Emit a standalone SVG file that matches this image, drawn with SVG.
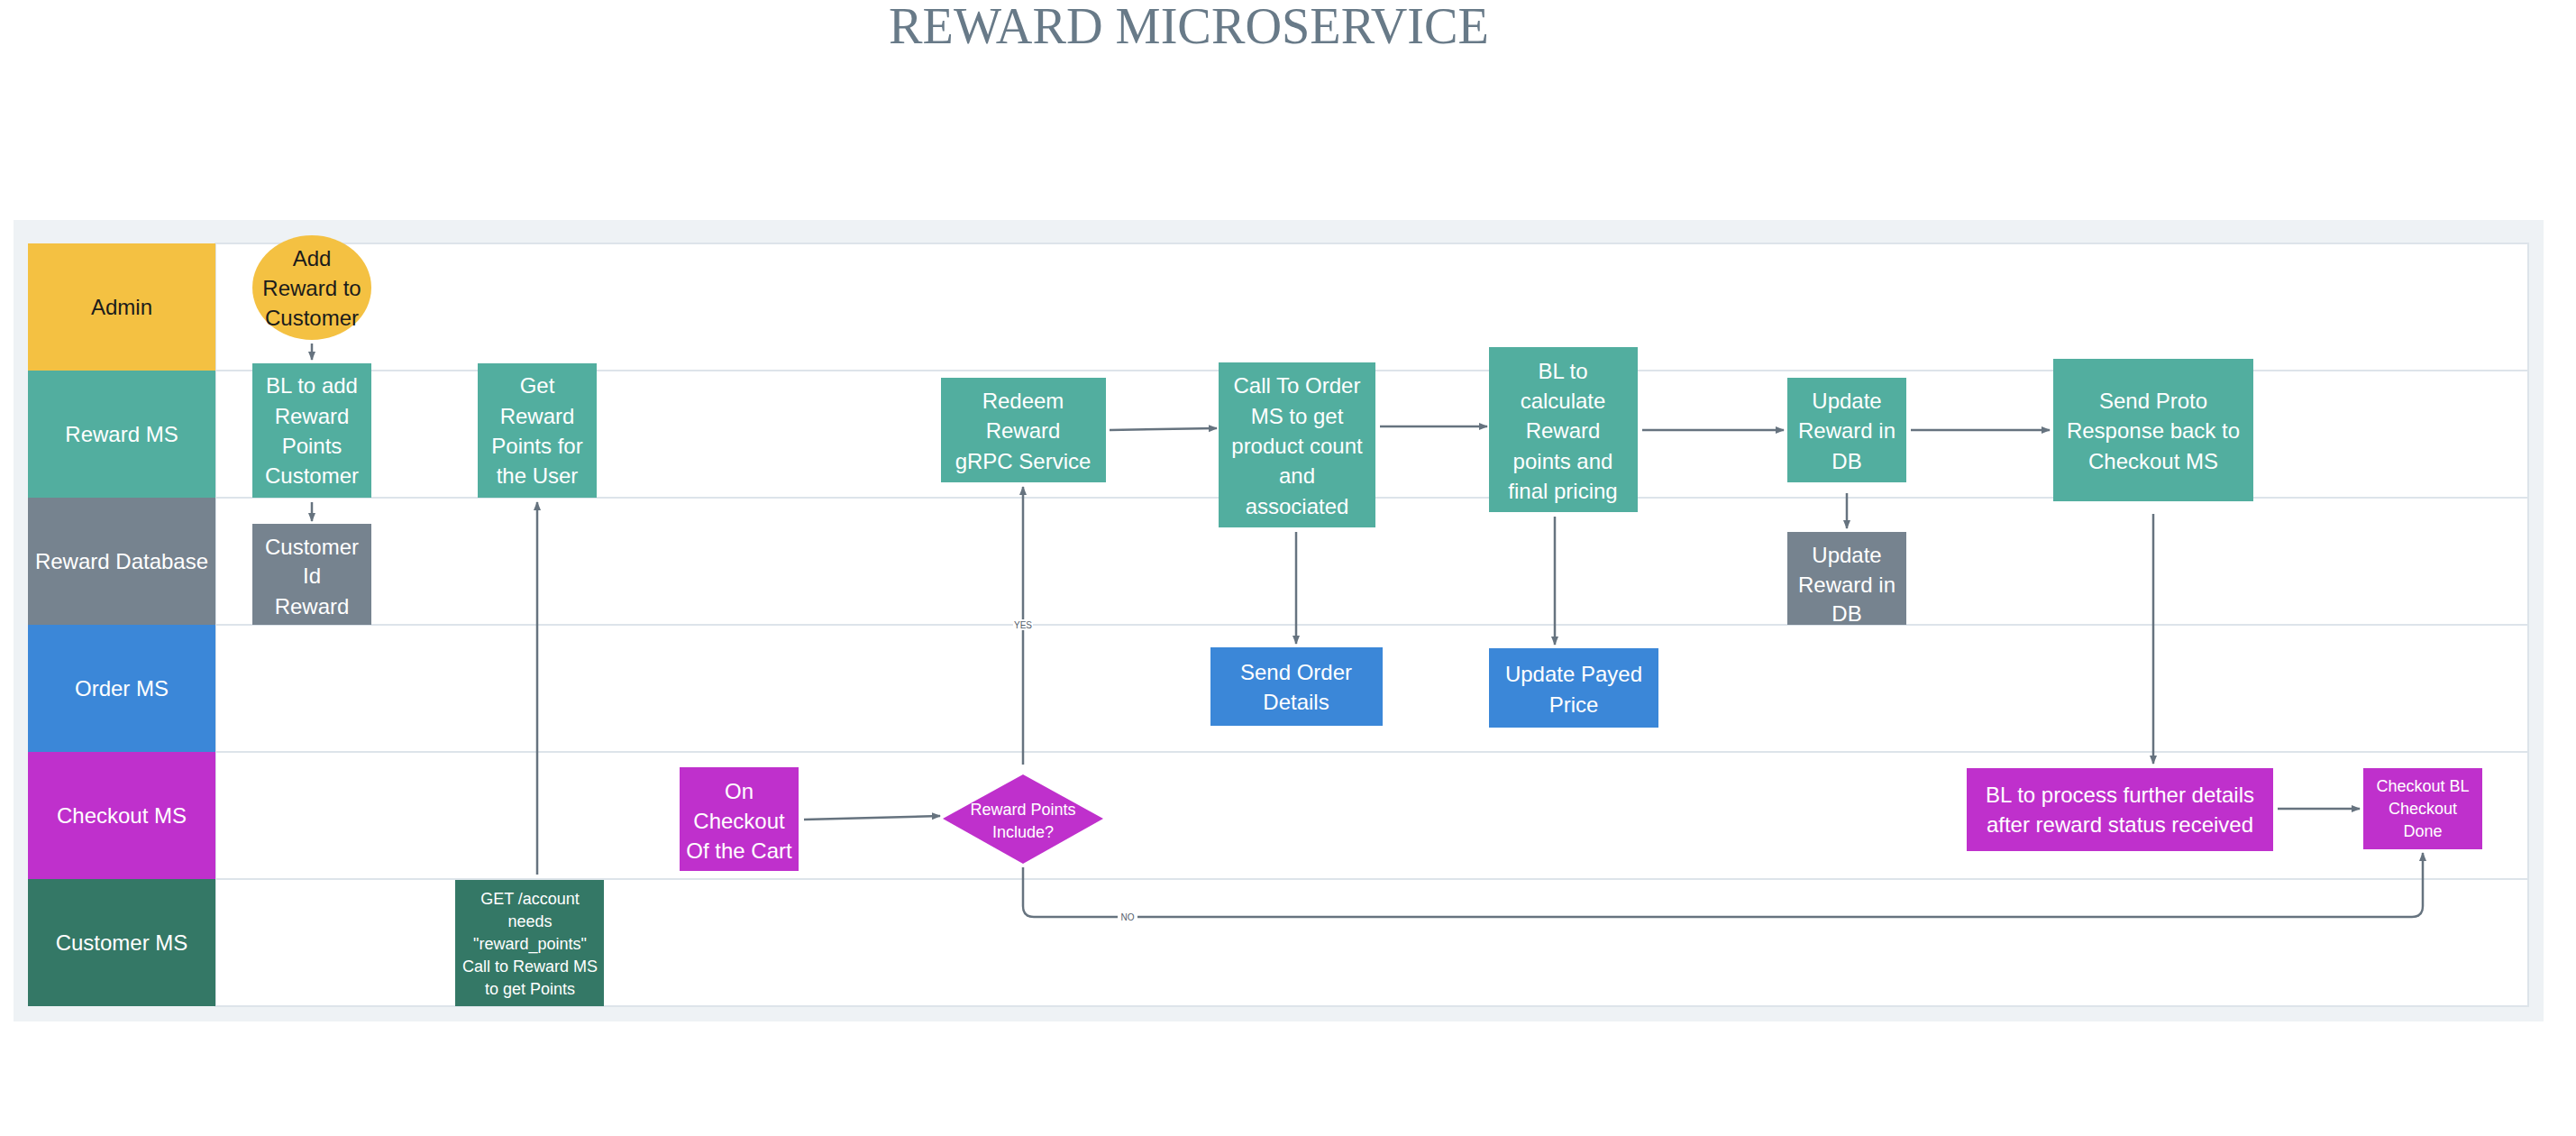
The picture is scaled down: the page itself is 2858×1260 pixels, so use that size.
<svg xmlns="http://www.w3.org/2000/svg" width="2858" height="1260" viewBox="0 0 2858 1260">
<defs>
<marker id="ah" viewBox="0 0 10 10" refX="9" refY="5" markerWidth="10" markerHeight="10" markerUnits="userSpaceOnUse" orient="auto">
<path d="M0,1 L10,5 L0,9 z" fill="#66737f"/>
</marker>
<style>
.t{font-family:"Liberation Sans",Arial,sans-serif;font-size:24px;fill:#ffffff;text-anchor:middle}
.s{font-size:18px}
.dk{fill:#1b1b1b}
.lbl{font-family:"Liberation Sans",Arial,sans-serif;font-size:10px;fill:#55606b;text-anchor:middle}
.c{fill:none;stroke:#66737f;stroke-width:2.5;marker-end:url(#ah)}
.teal{fill:#52ae9f}
.grey{fill:#76838f}
.blue{fill:#3b87d8}
.mag{fill:#bf30cc}
.lane{stroke:#dde4ea;stroke-width:2;fill:none}
</style>
</defs>
<rect width="2858" height="1260" fill="#ffffff"/>
<text x="1319" y="48" font-family="'Liberation Serif','DejaVu Serif',serif" font-size="58" fill="#687a88" text-anchor="middle" textLength="666" lengthAdjust="spacingAndGlyphs">REWARD MICROSERVICE</text>

<g id="swimlanes">
<rect x="15" y="244" width="2807" height="889" fill="#eef2f5"/>
<rect x="239" y="270" width="2566" height="846" fill="#ffffff" stroke="#dde4ea" stroke-width="2"/>
<line class="lane" x1="239" y1="411" x2="2805" y2="411"/>
<line class="lane" x1="239" y1="552" x2="2805" y2="552"/>
<line class="lane" x1="239" y1="693" x2="2805" y2="693"/>
<line class="lane" x1="239" y1="834" x2="2805" y2="834"/>
<line class="lane" x1="239" y1="975" x2="2805" y2="975"/>
<g id="lane-admin"><rect x="31" y="270" width="208" height="141" fill="#f4c142"/><text class="t dk" x="135" y="349">Admin</text></g>
<g id="lane-reward-ms"><rect x="31" y="411" width="208" height="141" fill="#52ae9f"/><text class="t" x="135" y="490">Reward MS</text></g>
<g id="lane-reward-db"><rect x="31" y="552" width="208" height="141" fill="#76838f"/><text class="t" x="135" y="631">Reward Database</text></g>
<g id="lane-order-ms"><rect x="31" y="693" width="208" height="141" fill="#3b87d8"/><text class="t" x="135" y="772">Order MS</text></g>
<g id="lane-checkout-ms"><rect x="31" y="834" width="208" height="141" fill="#bf30cc"/><text class="t" x="135" y="913">Checkout MS</text></g>
<g id="lane-customer-ms"><rect x="31" y="975" width="208" height="141" fill="#347866"/><text class="t" x="135" y="1054">Customer MS</text></g>
</g>

<g id="connectors">
<line class="c" x1="346" y1="381" x2="346" y2="399"/>
<line class="c" x1="346" y1="557" x2="346" y2="578"/>
<line class="c" x1="596" y1="970" x2="596" y2="557"/>
<line class="c" x1="892" y1="909" x2="1043" y2="905"/>
<line class="c" x1="1135" y1="848" x2="1135" y2="540"/>
<path class="c" d="M1135,962 V1005 Q1135,1017 1147,1017 H2676 Q2688,1017 2688,1005 V946"/>
<line class="c" x1="1231" y1="477" x2="1350" y2="475"/>
<line class="c" x1="1531" y1="473" x2="1650" y2="473"/>
<line class="c" x1="1438" y1="590" x2="1438" y2="714"/>
<line class="c" x1="1725" y1="573" x2="1725" y2="715"/>
<line class="c" x1="1822" y1="477" x2="1979" y2="477"/>
<line class="c" x1="2120" y1="477" x2="2274" y2="477"/>
<line class="c" x1="2049" y1="547" x2="2049" y2="586"/>
<line class="c" x1="2389" y1="570" x2="2389" y2="847"/>
<line class="c" x1="2527" y1="897" x2="2618" y2="897"/>
<rect x="1124" y="687" width="22" height="12" fill="#ffffff"/>
<text class="lbl" x="1135" y="697">YES</text>
<rect x="1240" y="1011" width="22" height="12" fill="#ffffff"/>
<text class="lbl" x="1251" y="1021">NO</text>
</g>

<g id="n-add-reward"><ellipse cx="346" cy="319" rx="66" ry="58" fill="#f4c142"/>
<text class="t dk" x="346"><tspan x="346" y="295">Add</tspan><tspan x="346" y="328">Reward to</tspan><tspan x="346" y="361">Customer</tspan></text></g>

<g id="n-bl-add"><rect class="teal" x="280" y="403" width="132" height="149"/>
<text class="t"><tspan x="346" y="436">BL to add</tspan><tspan x="346" y="470">Reward</tspan><tspan x="346" y="503">Points</tspan><tspan x="346" y="536">Customer</tspan></text></g>

<g id="n-customer-id"><rect class="grey" x="280" y="581" width="132" height="112"/>
<text class="t"><tspan x="346" y="615">Customer</tspan><tspan x="346" y="647">Id</tspan><tspan x="346" y="681">Reward</tspan></text></g>

<g id="n-get-reward"><rect class="teal" x="530" y="403" width="132" height="149"/>
<text class="t"><tspan x="596" y="436">Get</tspan><tspan x="596" y="470">Reward</tspan><tspan x="596" y="503">Points for</tspan><tspan x="596" y="536">the User</tspan></text></g>

<g id="n-get-account"><rect x="505" y="976" width="165" height="140" fill="#347866"/>
<text class="t s"><tspan x="588" y="1003">GET /account</tspan><tspan x="588" y="1028">needs</tspan><tspan x="588" y="1053">"reward_points"</tspan><tspan x="588" y="1078">Call to Reward MS</tspan><tspan x="588" y="1103">to get Points</tspan></text></g>

<g id="n-on-checkout"><rect class="mag" x="754" y="851" width="132" height="115"/>
<text class="t"><tspan x="820" y="886">On</tspan><tspan x="820" y="919">Checkout</tspan><tspan x="820" y="952">Of the Cart</tspan></text></g>

<g id="n-decision"><polygon class="mag" points="1135,859 1224,908 1135,958 1046,908"/>
<text class="t s"><tspan x="1135" y="904">Reward Points</tspan><tspan x="1135" y="929">Include?</tspan></text></g>

<g id="n-redeem"><rect class="teal" x="1044" y="419" width="183" height="116"/>
<text class="t"><tspan x="1135" y="453">Redeem</tspan><tspan x="1135" y="486">Reward</tspan><tspan x="1135" y="520">gRPC Service</tspan></text></g>

<g id="n-call-order"><rect class="teal" x="1352" y="402" width="174" height="183"/>
<text class="t"><tspan x="1439" y="436">Call To Order</tspan><tspan x="1439" y="470">MS to get</tspan><tspan x="1439" y="503">product count</tspan><tspan x="1439" y="536">and</tspan><tspan x="1439" y="570">associated</tspan></text></g>

<g id="n-bl-calc"><rect class="teal" x="1652" y="385" width="165" height="183"/>
<text class="t"><tspan x="1734" y="420">BL to</tspan><tspan x="1734" y="453">calculate</tspan><tspan x="1734" y="486">Reward</tspan><tspan x="1734" y="520">points and</tspan><tspan x="1734" y="553">final pricing</tspan></text></g>

<g id="n-send-order"><rect class="blue" x="1343" y="718" width="191" height="87"/>
<text class="t"><tspan x="1438" y="754">Send Order</tspan><tspan x="1438" y="787">Details</tspan></text></g>

<g id="n-update-payed"><rect class="blue" x="1652" y="719" width="188" height="88"/>
<text class="t"><tspan x="1746" y="756">Update Payed</tspan><tspan x="1746" y="790">Price</tspan></text></g>

<g id="n-update-reward"><rect class="teal" x="1983" y="419" width="132" height="116"/>
<text class="t"><tspan x="2049" y="453">Update</tspan><tspan x="2049" y="486">Reward in</tspan><tspan x="2049" y="520">DB</tspan></text></g>

<g id="n-update-reward-db"><rect class="grey" x="1983" y="590" width="132" height="103"/>
<text class="t"><tspan x="2049" y="624">Update</tspan><tspan x="2049" y="657">Reward in</tspan><tspan x="2049" y="689">DB</tspan></text></g>

<g id="n-send-proto"><rect class="teal" x="2278" y="398" width="222" height="158"/>
<text class="t"><tspan x="2389" y="453">Send Proto</tspan><tspan x="2389" y="486">Response back to</tspan><tspan x="2389" y="520">Checkout MS</tspan></text></g>

<g id="n-bl-process"><rect class="mag" x="2182" y="852" width="340" height="92"/>
<text class="t"><tspan x="2352" y="890">BL to process further details</tspan><tspan x="2352" y="923">after reward status received</tspan></text></g>

<g id="n-checkout-done"><rect class="mag" x="2622" y="852" width="132" height="90"/>
<text class="t s"><tspan x="2688" y="878">Checkout BL</tspan><tspan x="2688" y="903">Checkout</tspan><tspan x="2688" y="928">Done</tspan></text></g>
</svg>
